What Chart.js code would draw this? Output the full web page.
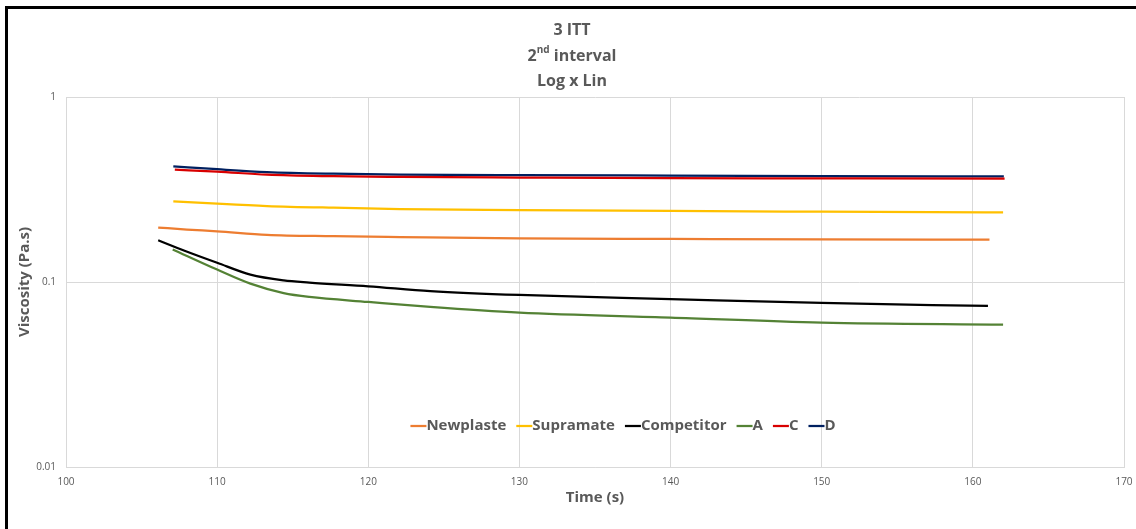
<!DOCTYPE html>
<html>
<head>
<meta charset="utf-8">
<script src="https://cdn.jsdelivr.net/npm/chart.js@4.4.1/dist/chart.umd.min.js"></script>
<style>
  html, body { margin: 0; padding: 0; background: #fff; }
  #wrap { position: relative; width: 1136px; height: 529px; overflow: hidden; }
  #frame { position: absolute; left: 5px; top: 6px; width: 1200px; height: 600px;
           border-left: 3px solid #000; border-top: 3px solid #000; pointer-events: none; }
</style>
</head>
<body>
<div id="wrap">
  <canvas id="myChart" width="1136" height="529"></canvas>
  <div id="frame"></div>
</div>
<script>
// values
var newplaste_time = [106.1, 108, 110, 113.3, 117.7, 122.1, 130, 140, 150, 161.1];
var newplaste_visc = [0.197, 0.192, 0.188, 0.180, 0.177, 0.175, 0.172, 0.171, 0.170, 0.1695];

var supramate_time = [107.1, 110, 113.3, 117.7, 122.1, 130, 140, 150, 162];
var supramate_visc = [0.273, 0.265, 0.2575, 0.252, 0.248, 0.245, 0.242, 0.240, 0.238];

var competitor_time = [106.1, 107.8, 110, 112.2, 114.4, 116.1, 120, 124.1, 130, 140, 150, 161];
var competitor_visc = [0.168, 0.148, 0.127, 0.1096, 0.102, 0.0993, 0.0948, 0.0894, 0.0851, 0.0809, 0.0770, 0.0742];

var a_time = [107.06, 110, 112.2, 114.4, 116.1, 120, 124.1, 130, 140, 150, 162];
var a_visc = [0.150, 0.1167, 0.098, 0.0871, 0.083, 0.078, 0.0733, 0.0683, 0.0642, 0.0603, 0.0588];

var c_time = [107.2, 110, 113.3, 117.7, 122.1, 130, 140, 150, 162.1];
var c_visc = [0.405, 0.395, 0.380, 0.373, 0.370, 0.367, 0.364, 0.363, 0.362];

var d_time = [107.1, 110, 113.3, 117.7, 122.1, 130, 140, 150, 162.05];
var d_visc = [0.422, 0.407, 0.393, 0.385, 0.381, 0.378, 0.376, 0.374, 0.372];

var x_ticks = [100, 110, 120, 130, 140, 150, 160, 170];
var y_ticks = [0.01, 0.1, 1];

var text_color = '#595959';
var font_family = '"Open Sans", Lato, sans-serif';

function make_points(times, values) {
	var pts = [];
	for (var i = 0; i < times.length; i++) {
		pts.push({ x: times[i], y: values[i] });
	}
	return pts;
}

function make_dataset(label, color, times, values) {
	return {
		label: label,
		data: make_points(times, values),
		borderColor: color,
		backgroundColor: color,
		borderWidth: 2.25,
		pointRadius: 0,
		cubicInterpolationMode: 'monotone',
		fill: false
	};
}

// three line title, second line with superscript "nd"
var title_plugin = {
	id: 'title_plugin',
	afterDraw: function(chart) {
		var ctx = chart.ctx;
		var cx = 572;
		ctx.save();
		ctx.fillStyle = text_color;
		ctx.textBaseline = 'middle';
		ctx.textAlign = 'center';
		ctx.font = 'bold 16px ' + font_family;
		ctx.fillText('3 ITT', cx, 30);
		ctx.fillText('Log x Lin', cx, 81);

		// "2nd interval"
		var big = 'bold 16px ' + font_family;
		var small = 'bold 10px ' + font_family;
		ctx.font = big;
		var w1 = ctx.measureText('2').width;
		var w3 = ctx.measureText(' interval').width;
		ctx.font = small;
		var w2 = ctx.measureText('nd').width;
		var x0 = cx - (w1 + w2 + w3) / 2;
		ctx.textAlign = 'left';
		ctx.font = big;
		ctx.fillText('2', x0, 56);
		ctx.font = small;
		ctx.fillText('nd', x0 + w1, 50);
		ctx.font = big;
		ctx.fillText(' interval', x0 + w1 + w2, 56);
		ctx.restore();
	}
};

// legend drawn inside the plot area, near the bottom
var legend_plugin = {
	id: 'legend_plugin',
	afterDraw: function(chart) {
		var ctx = chart.ctx;
		var sets = chart.data.datasets;
		var swatch = 16;
		var gap = 10;
		var cy = 426;
		ctx.save();
		ctx.font = 'bold 15px ' + font_family;
		var total = 0;
		for (var s of sets) {
			total += swatch + ctx.measureText(s.label).width + gap;
		}
		total -= gap;
		var x = 623 - total / 2;
		ctx.textBaseline = 'middle';
		ctx.textAlign = 'left';
		for (var s of sets) {
			ctx.strokeStyle = s.borderColor;
			ctx.lineWidth = 2.25;
			ctx.beginPath();
			ctx.moveTo(x, cy);
			ctx.lineTo(x + swatch, cy);
			ctx.stroke();
			x += swatch;
			ctx.fillStyle = text_color;
			ctx.fillText(s.label, x, cy);
			x += ctx.measureText(s.label).width + gap;
		}
		ctx.restore();
	}
};

var ctx = document.getElementById('myChart');

var myChart = new Chart(ctx, {
	type: 'line',
	data: {
		datasets: [
			make_dataset('Newplaste', '#ED7D31', newplaste_time, newplaste_visc),
			make_dataset('Supramate', '#FFC000', supramate_time, supramate_visc),
			make_dataset('Competitor', '#000000', competitor_time, competitor_visc),
			make_dataset('A', '#548235', a_time, a_visc),
			make_dataset('C', '#D80000', c_time, c_visc),
			make_dataset('D', '#002060', d_time, d_visc)
		]
	},
	options: {
		responsive: false,
		animation: false,
		layout: {
			padding: { left: 12, right: 12, top: 97, bottom: 14 }
		},
		plugins: {
			legend: { display: false },
			title: { display: false },
			tooltip: { enabled: false }
		},
		scales: {
			x: {
				type: 'linear',
				min: 100,
				max: 170,
				afterFit: function(scale) {
					scale.height = 48;
					scale.paddingLeft = 0;
					scale.paddingRight = 0;
				},
				afterBuildTicks: function(scale) {
					scale.ticks = x_ticks.map(function(v) { return { value: v }; });
				},
				grid: { color: '#d9d9d9', lineWidth: 1, drawTicks: false },
				border: { color: '#d9d9d9' },
				ticks: {
					color: text_color,
					font: { family: font_family, size: 10 },
					padding: 9,
					maxRotation: 0
				},
				title: {
					display: true,
					text: 'Time (s)',
					color: text_color,
					font: { family: font_family, size: 15, weight: 'bold' },
					padding: { top: 4, bottom: 8 }
				}
			},
			y: {
				type: 'logarithmic',
				min: 0.01,
				max: 1,
				afterFit: function(scale) { scale.width = 54; },
				afterBuildTicks: function(scale) {
					scale.ticks = y_ticks.map(function(v) { return { value: v }; });
				},
				grid: { color: '#d9d9d9', lineWidth: 1, drawTicks: false },
				border: { color: '#d9d9d9' },
				ticks: {
					color: text_color,
					font: { family: font_family, size: 10 },
					padding: 10,
					callback: function(value) { return String(value); }
				},
				title: {
					display: true,
					text: 'Viscosity (Pa.s)',
					color: text_color,
					font: { family: font_family, size: 15, weight: 'bold' },
					padding: { top: 4, bottom: 4 }
				}
			}
		}
	},
	plugins: [title_plugin, legend_plugin]
});
</script>
</body>
</html>
